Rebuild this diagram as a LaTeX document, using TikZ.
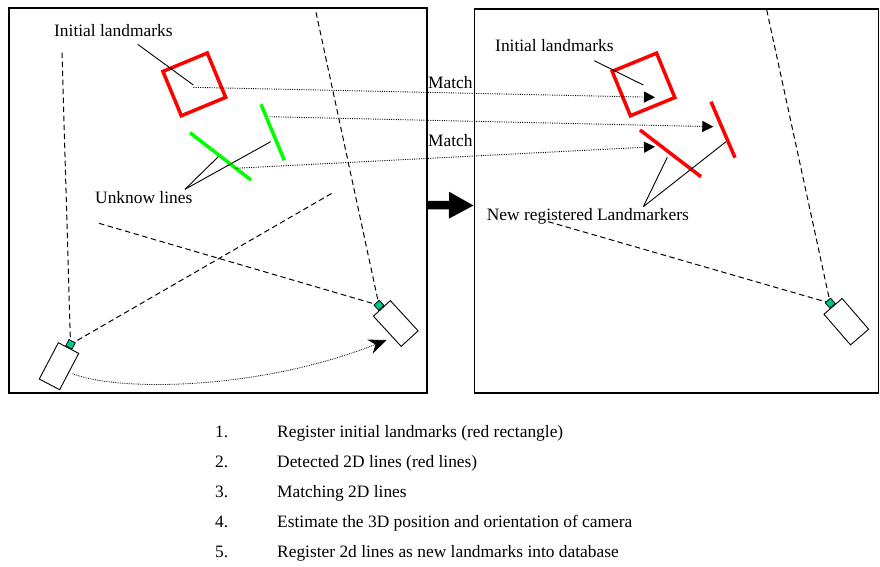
\documentclass[tikz,border=0pt]{standalone}
\usepackage{fontspec}
\setmainfont{Liberation Serif}
\usetikzlibrary{arrows.meta}
\definecolor{camgreen}{RGB}{0,200,140}
\begin{document}
\begin{tikzpicture}[x=1pt,y=-1pt,
  lbl/.style={font=\fontsize{17.4}{20}\selectfont, inner sep=0pt, anchor=base west},
  frame/.style={draw, line width=1.1pt, inner sep=0pt, rectangle},
  redbox/.style={draw=red, line width=3.5pt, minimum size=48pt, inner sep=0pt, rectangle},
  redline/.style={draw=red, line width=3.5pt},
  greenline/.style={draw=green, line width=3.5pt},
  cam/.style={draw, line width=0.9pt, fill=white, minimum width=23pt, minimum height=41pt, inner sep=0pt, rectangle},
  camdot/.style={draw, line width=0.6pt, fill=camgreen, minimum size=7pt, inner sep=0pt, rectangle, anchor=south},
  ray/.style={dash pattern=on 5.5pt off 3.5pt, line width=1pt},
  lead/.style={line width=0.9pt},
  matchline/.style={dash pattern=on 1pt off 1.3pt, line width=0.9pt, -{Triangle[length=11pt,width=11pt]}},
  bigarrow/.style={line width=8.5pt, -{Triangle[length=25pt,width=25pt]}}
]
\useasboundingbox (0,0) rectangle (880,566);

% frames
\node[frame, minimum width=418pt, minimum height=385pt] (lf) at (218,200.5) {};
\node[frame, minimum width=404pt, minimum height=384pt] (rf) at (676.5,201) {};
\draw[bigarrow] ([yshift=-4.5pt]lf.east) -- ([yshift=-4.5pt]rf.west);

% ---------- left panel ----------
\node[redbox, rotate=22.5] (lsq) at (194.3,84.4) {};
\coordinate (lsqc) at (193.3,85);
\draw[greenline] (261,104.3) coordinate (g1a) -- (284.3,160.3) coordinate (g1b);
\draw[greenline] (190,132.7) coordinate (g2a) -- (251,180) coordinate (g2b);

\node[lbl] (il1) at (54,36) {Initial landmarks};
\coordinate (il1p) at (137.7,44.3);
\draw[lead] (il1p) -- (lsqc);

\node[lbl] (ul) at (95,203.3) {Unknow lines};
\coordinate (ulp) at (185,189.3);
\draw[lead] (ulp) -- (218.3,156.7);
\draw[lead] (ulp) -- (270.7,141.7);

% cameras
\node[cam, rotate=-27.7] (c1) at (59,366.2) {};
\node[camdot, rotate=-27.7] (d1) at (c1.north) {};
\node[cam, rotate=42.6] (c2) at (395.75,323.5) {};
\node[camdot, rotate=42.6] (d2) at (c2.north) {};

\draw[ray] (62,52.7) -- (d1.center);
\draw[ray] (331.5,193.5) -- (d1.center);
\draw[ray] (316,12.3) -- (d2.center);
\draw[ray] (99,223.3) -- (d2.center);
\node[camdot, rotate=-27.7] at (c1.north) {};
\node[camdot, rotate=42.6] at (c2.north) {};

\coordinate (mvtip) at (386.7,340);
\draw[dash pattern=on 0.8pt off 1pt, line width=0.8pt, -{Stealth[length=18pt,width=15pt,inset=6pt]}]
  ([xshift=3pt,yshift=-2pt]c1.east) .. controls (120,392) and (260,390) .. (mvtip);

% ---------- right panel ----------
\node[redbox, rotate=22.3] (rsq) at (643.5,84.45) {};
\coordinate (rsqc) at (643.3,85);
\draw[redline] (711,101.7) coordinate (r1a) -- (735,157.7) coordinate (r1b);
\draw[redline] (640,130) coordinate (r2a) -- (701,176.7) coordinate (r2b);

\node[lbl] (il2) at (495,51.7) {Initial landmarks};
\coordinate (il2p) at (594.3,60.7);
\draw[lead] (il2p) -- (rsqc);

\node[lbl] (nrl) at (486.7,220.7) {New registered Landmarkers};
\coordinate (nrlp) at (643.3,206.7);
\draw[lead] (nrlp) -- (667.3,157.3);
\draw[lead] (nrlp) -- (726,141.7);

\node[cam, rotate=40.9, minimum width=24pt, minimum height=40.6pt] (c3) at (846.3,321.7) {};
\node[camdot, rotate=40.9] (d3) at (c3.north) {};
\draw[ray] (548.3,221.7) -- (d3.center);
\draw[ray] (766.7,10) -- (d3.center);
\node[camdot, rotate=40.9] at (c3.north) {};

% ---------- match lines ----------
\coordinate (m1s) at (193.3,87.3);
\coordinate (m1e) at (655,97.3);
\coordinate (m2s) at (269.3,116.7);
\coordinate (m2e) at (713.3,126.7);
\coordinate (m3s) at (235,168.3);
\coordinate (m3e) at (655,146.7);
\draw[matchline] (m1s) -- (m1e);
\draw[matchline] (m2s) -- (m2e);
\draw[matchline] (m3s) -- (m3e);
\node[lbl] (mt1) at (428,88.3) {Match};
\node[lbl] (mt2) at (428,146) {Match};

% ---------- list ----------
\foreach \n/\t [count=\i from 0] in {1./Register initial landmarks (red rectangle),
  2./Detected 2D lines (red lines),
  3./Matching 2D lines,
  4./Estimate the 3D position and orientation of camera,
  5./Register 2d lines as new landmarks into database}{
  \node[lbl] (num\i) at (215,437+30*\i) {\n};
  \node[lbl] (item\i) at (277,437+30*\i) {\t};
}
\end{tikzpicture}
\end{document}
